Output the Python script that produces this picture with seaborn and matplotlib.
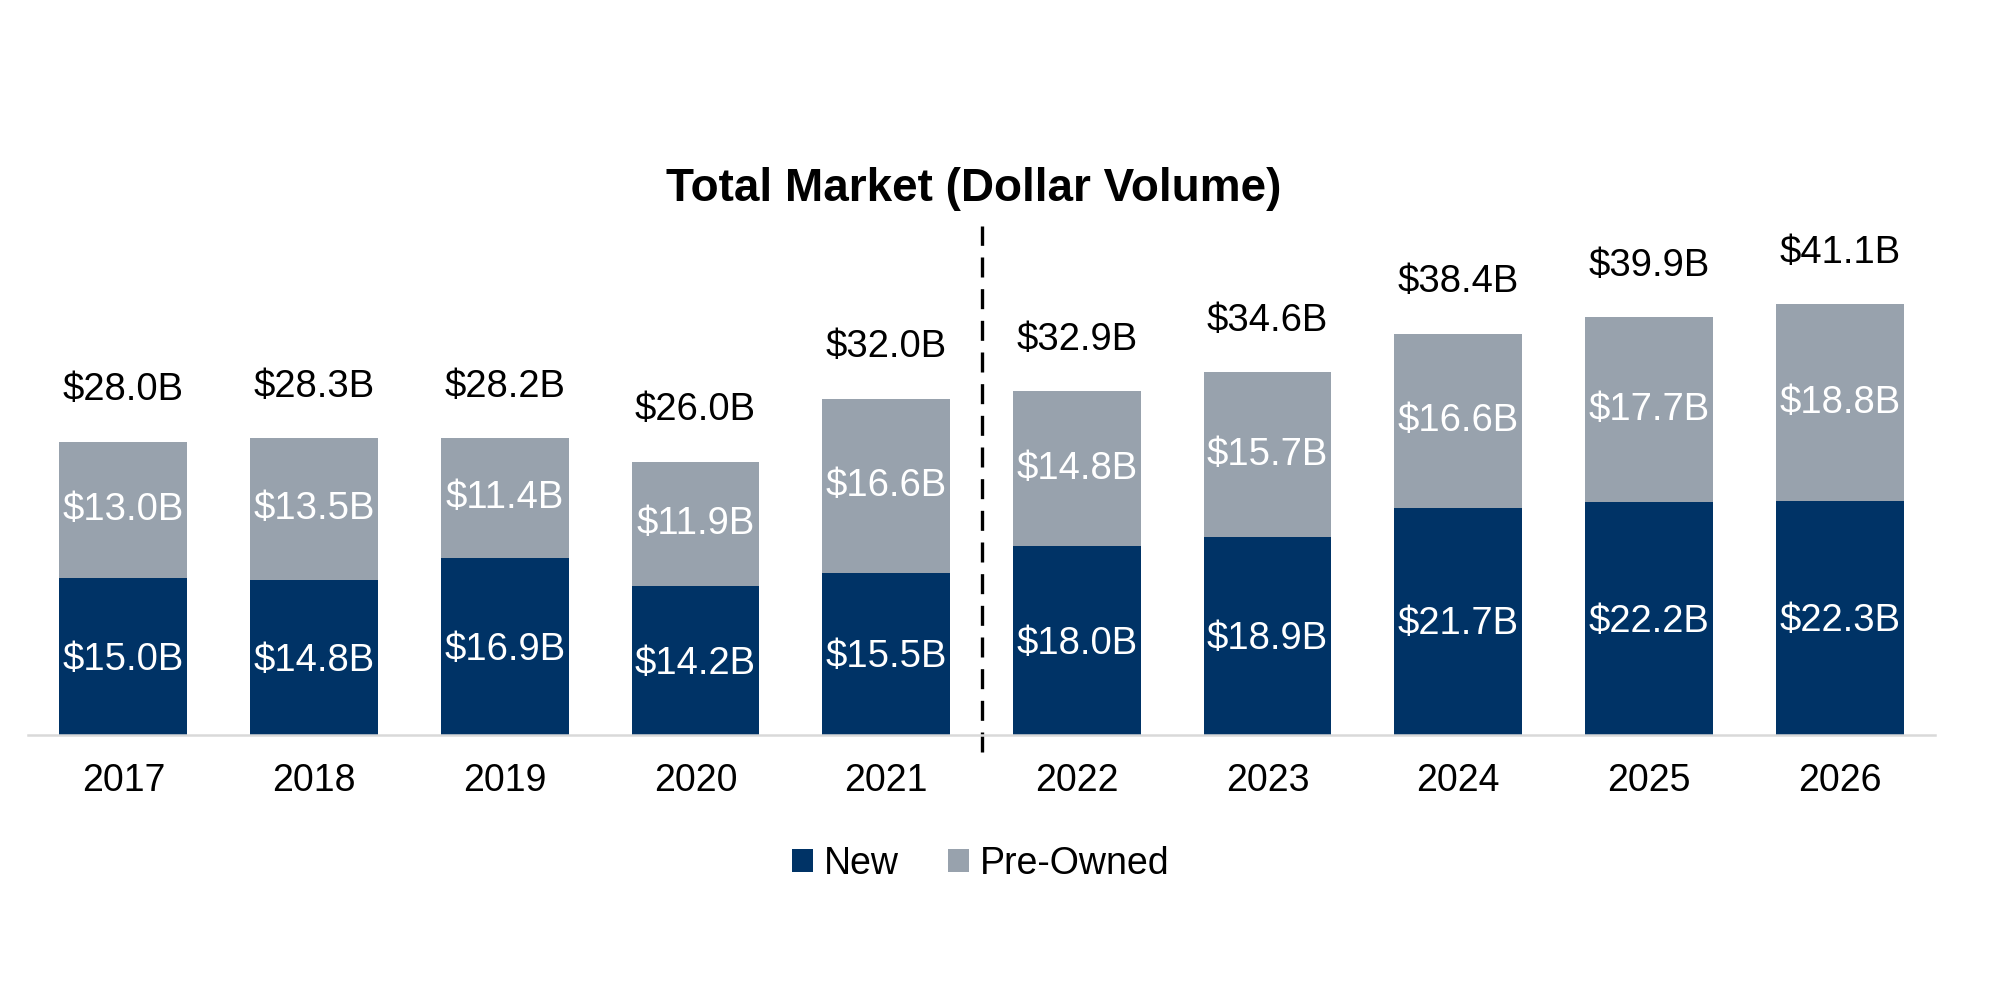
import matplotlib
matplotlib.use("Agg")
import matplotlib.pyplot as plt
from matplotlib import font_manager
from matplotlib.patches import Patch
import numpy as np
import seaborn as sns

# Data
years = ['2017', '2018', '2019', '2020', '2021', '2022', '2023', '2024', '2025', '2026']
new_vals = [15.0, 14.8, 16.9, 14.2, 15.5, 18.0, 18.9, 21.7, 22.2, 22.3]
preowned_vals = [13.0, 13.5, 11.4, 11.9, 16.6, 14.8, 15.7, 16.6, 17.7, 18.8]
total_vals = [28.0, 28.3, 28.2, 26.0, 32.0, 32.9, 34.6, 38.4, 39.9, 41.1]

NAVY = '#003366'
GRAY = '#98a2ad'

sns.set_style("white")
plt.rcParams['font.family'] = ['Liberation Sans', 'DejaVu Sans']
plt.rcParams['text.color'] = 'black'
plt.rcParams['xtick.color'] = 'black'

names = {f.name for f in font_manager.fontManager.ttflist}
narrow = 'Liberation Sans Narrow' if 'Liberation Sans Narrow' in names else 'Liberation Sans'

fig = plt.figure(figsize=(20, 10.01), dpi=100)
ymax = 45
ax = fig.add_axes([0.014, 0.2657, 0.9535, ymax * 10.48 / 1001])

stack_top = np.array(new_vals) + np.array(preowned_vals)
sns.barplot(x=years, y=stack_top, color=GRAY, width=0.67, saturation=1, linewidth=0, ax=ax)
sns.barplot(x=years, y=new_vals, color=NAVY, width=0.67, saturation=1, linewidth=0, ax=ax)

ax.set_xlim(-0.5, 9.5)
ax.set_ylim(0, ymax)

for i in range(len(years)):
    ax.text(i, new_vals[i] / 2 - 0.3, f"${new_vals[i]:.1f}B", ha='center', va='center',
            color='white', fontsize=27.5)
    ax.text(i, new_vals[i] + preowned_vals[i] / 2, f"${preowned_vals[i]:.1f}B", ha='center',
            va='center', color='white', fontsize=27.5)
    ax.text(i, stack_top[i] + 4.9, f"${total_vals[i]:.1f}B", ha='center', va='center',
            color='black', fontsize=27.5, family=[narrow, 'DejaVu Sans'], clip_on=False)

# divider between actuals and forecast
ax.plot([4.5, 4.5], [-1.6, 48.6], color='black', lw=2.4, ls=(0, (6, 3.5)), clip_on=False)

for s in ['top', 'right', 'left']:
    ax.spines[s].set_visible(False)
ax.spines['bottom'].set_color('#d9d9d9')
ax.spines['bottom'].set_linewidth(1.8)
ax.set_yticks([])
ax.tick_params(axis='x', length=0, pad=20, labelsize=27)
ax.set_xlabel('')
ax.set_ylabel('')

fig.text(0.487, 1 - 189 / 1001, 'Total Market (Dollar Volume)', ha='center', va='center',
         fontsize=33, fontweight='bold')

handles = [Patch(facecolor=NAVY, edgecolor='none'), Patch(facecolor=GRAY, edgecolor='none')]
fig.legend(handles, ['New', 'Pre-Owned'], loc='center', bbox_to_anchor=(0.4905, 1 - 864 / 1001),
           ncol=2, frameon=False, fontsize=27, handlelength=0.55, handleheight=0.55,
           handletextpad=0.3, columnspacing=1.3)

fig.savefig('out.png', dpi=100, facecolor='white')
